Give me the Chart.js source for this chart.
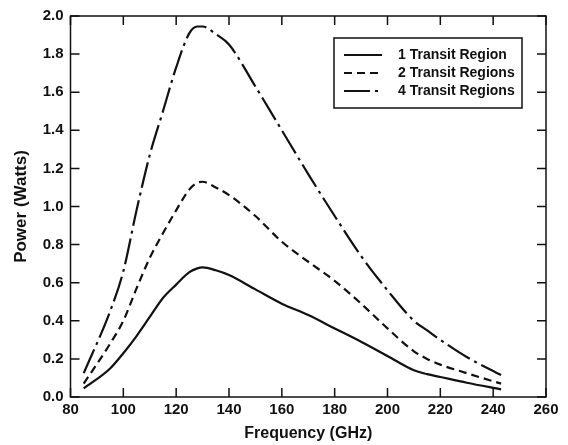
<!DOCTYPE html>
<html>
<head>
<meta charset="utf-8">
<script src="https://cdn.jsdelivr.net/npm/chart.js@4.4.1/dist/chart.umd.min.js"></script>
<style>
  html, body { margin: 0; padding: 0; background: #fff; }
  #wrap { width: 568px; height: 445px; }
</style>
</head>
<body>
<div id="wrap"><canvas id="powerChart" width="568" height="445"></canvas></div>
<script>
// 주파수 (GHz)
const freqs = [85, 95, 100, 105, 110, 115, 120, 125, 128, 130, 135, 140, 150, 160, 170, 180, 190, 200, 210, 215, 220, 230, 243];
// 출력 (W)
const oneRegion = [0.045, 0.15, 0.23, 0.32, 0.42, 0.52, 0.59, 0.655, 0.675, 0.68, 0.665, 0.64, 0.565, 0.49, 0.43, 0.36, 0.29, 0.215, 0.14, 0.12, 0.105, 0.075, 0.04];
const twoRegions = [0.07, 0.28, 0.40, 0.57, 0.73, 0.86, 0.98, 1.09, 1.125, 1.13, 1.10, 1.06, 0.95, 0.815, 0.71, 0.61, 0.49, 0.36, 0.24, 0.20, 0.17, 0.125, 0.07];
const fourRegions = [0.125, 0.45, 0.66, 0.98, 1.27, 1.50, 1.73, 1.91, 1.945, 1.945, 1.905, 1.85, 1.63, 1.40, 1.17, 0.95, 0.74, 0.56, 0.40, 0.35, 0.30, 0.21, 0.115];
const seriesLabels = ["1 Transit Region", "2 Transit Regions", "4 Transit Regions"];
const xTicks = [80, 100, 120, 140, 160, 180, 200, 220, 240, 260];
const yTicks = [0, 0.2, 0.4, 0.6, 0.8, 1.0, 1.2, 1.4, 1.6, 1.8, 2.0];

const FONT = "'Liberation Sans', Arial, Helvetica, sans-serif";
const INK = "#111";

function toPoints(values) {
  return freqs.map((f, i) => ({ x: f, y: values[i] }));
}

// 박스 + 안쪽 눈금 (네 변)
const frameTicks = {
  id: "frameTicks",
  afterDraw(chart) {
    const { ctx, chartArea: a, scales } = chart;
    const len = 9;
    ctx.save();
    ctx.strokeStyle = INK;
    ctx.lineWidth = 1.5;
    ctx.strokeRect(a.left, a.top, a.right - a.left, a.bottom - a.top);
    ctx.beginPath();
    xTicks.forEach((v) => {
      const px = scales.x.getPixelForValue(v);
      ctx.moveTo(px, a.bottom);
      ctx.lineTo(px, a.bottom - len);
      ctx.moveTo(px, a.top);
      ctx.lineTo(px, a.top + len);
    });
    yTicks.forEach((v) => {
      const py = scales.y.getPixelForValue(v);
      ctx.moveTo(a.left, py);
      ctx.lineTo(a.left + len, py);
      ctx.moveTo(a.right, py);
      ctx.lineTo(a.right - len, py);
    });
    ctx.stroke();
    ctx.restore();
  },
};

// 범례 박스 (플롯 안 오른쪽 위)
const boxLegend = {
  id: "boxLegend",
  afterDraw(chart) {
    const { ctx, chartArea: a } = chart;
    const w = 188, h = 70;
    const x0 = a.right - 24 - w;
    const y0 = a.top + 22;
    ctx.save();
    ctx.fillStyle = "#fff";
    ctx.fillRect(x0, y0, w, h);
    ctx.strokeStyle = INK;
    ctx.lineWidth = 1.5;
    ctx.strokeRect(x0, y0, w, h);
    ctx.font = "bold 14px " + FONT;
    ctx.textBaseline = "middle";
    ctx.fillStyle = INK;
    chart.data.datasets.forEach((ds, i) => {
      const y = y0 + 17 + i * 18;
      ctx.beginPath();
      ctx.setLineDash(ds.borderDash || []);
      ctx.lineWidth = 2;
      ctx.moveTo(x0 + 10, y);
      ctx.lineTo(x0 + 48, y);
      ctx.stroke();
      ctx.setLineDash([]);
      ctx.fillText(ds.label, x0 + 64, y);
    });
    ctx.restore();
  },
};

const ctx = document.getElementById("powerChart").getContext("2d");
new Chart(ctx, {
  type: "line",
  data: {
    datasets: [
      { label: seriesLabels[0], data: toPoints(oneRegion), borderDash: [] },
      { label: seriesLabels[1], data: toPoints(twoRegions), borderDash: [8, 5] },
      { label: seriesLabels[2], data: toPoints(fourRegions), borderDash: [26, 5, 3, 5] },
    ].map((d) => ({
      ...d,
      borderColor: INK,
      borderWidth: 2.2,
      pointRadius: 0,
      fill: false,
      cubicInterpolationMode: "monotone",
    })),
  },
  options: {
    responsive: false,
    animation: false,
    layout: { padding: { top: 16, right: 22, left: 0, bottom: 0 } },
    plugins: {
      legend: { display: false },
      tooltip: { enabled: false },
    },
    scales: {
      x: {
        type: "linear",
        min: 80,
        max: 260,
        afterBuildTicks: (s) => { s.ticks = xTicks.map((v) => ({ value: v })); },
        afterFit: (s) => { s.height = 48; },
        grid: { display: false, drawTicks: false },
        border: { display: false },
        ticks: { color: INK, padding: 4, font: { family: FONT, size: 15, weight: "bold" } },
        title: {
          display: true,
          text: "Frequency (GHz)",
          color: INK,
          padding: { top: 0, bottom: 2 },
          font: { family: FONT, size: 16, weight: "bold" },
        },
      },
      y: {
        min: 0,
        max: 2,
        afterBuildTicks: (s) => { s.ticks = yTicks.map((v) => ({ value: v })); },
        afterFit: (s) => { s.width = 70.5; },
        grid: { display: false, drawTicks: false },
        border: { display: false },
        ticks: {
          color: INK,
          padding: 7,
          font: { family: FONT, size: 15, weight: "bold" },
          callback: (v) => v.toFixed(1),
        },
        title: {
          display: true,
          text: "Power (Watts)",
          color: INK,
          padding: { top: 11, bottom: 0 },
          font: { family: FONT, size: 17, weight: "bold" },
        },
      },
    },
  },
  plugins: [frameTicks, boxLegend],
});
</script>
</body>
</html>
